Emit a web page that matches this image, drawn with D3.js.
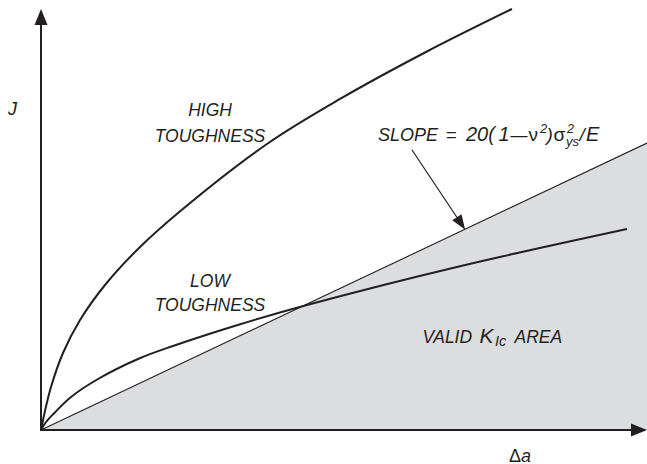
<!DOCTYPE html>
<html>
<head>
<meta charset="utf-8">
<script src="https://cdn.jsdelivr.net/npm/d3@7"></script>
<style>
  html, body { margin: 0; padding: 0; background: #fff; }
  svg { display: block; }
  text { font-family: 'Liberation Sans', Arial, Helvetica, sans-serif; fill: #231f20; white-space: pre; }
</style>
</head>
<body>
<svg id="chart" width="647" height="464"></svg>
<script>
// ---- data (abstract units: Δa on x, J on y) ----
const highDeltaA = [0, 0.066, 0.165, 0.363, 0.644, 1.056, 1.601, 2.261, 3.729, 4.934, 6.353, 7.772];
const highJ      = [0, 0.316, 0.715, 1.280, 1.829, 2.411, 3.010, 3.608, 4.756, 5.504, 6.285, 7.000];
const lowDeltaA  = [0, 0.083, 0.221, 0.495, 0.941, 1.601, 2.178, 3.300, 4.389, 6.931, 9.670];
const lowJ       = [0, 0.133, 0.283, 0.549, 0.848, 1.181, 1.397, 1.763, 2.078, 2.727, 3.342];
const slopeDeltaA = [0, 10];
const slopeJ      = [0, 4.77];
const axisLabels = ["J", "\u0394a"];
const curveLabels = [["HIGH", "TOUGHNESS"], ["LOW", "TOUGHNESS"]];

const svg = d3.select("#chart");
const ink = "#231f20";

const x = d3.scaleLinear().domain([0, 10]).range([41, 647]);
const y = d3.scaleLinear().domain([0, 7]).range([430, 9]);

const line = d3.line().x(d => x(d[0])).y(d => y(d[1])).curve(d3.curveCatmullRom.alpha(0.5));
const straight = d3.line().x(d => x(d[0])).y(d => y(d[1]));

// shaded valid area under slope line
const area = [[slopeDeltaA[0], slopeJ[0]], [slopeDeltaA[1], slopeJ[1]], [slopeDeltaA[1], 0]];
svg.append("path").attr("d", straight(area) + "Z").attr("fill", "#dcdddf").attr("stroke", "none");

// slope line
svg.append("path")
  .attr("d", straight(slopeDeltaA.map((d, i) => [d, slopeJ[i]])))
  .attr("fill", "none").attr("stroke", ink).attr("stroke-width", 1.1);

// curves
svg.append("path")
  .attr("d", line(highDeltaA.map((d, i) => [d, highJ[i]])))
  .attr("fill", "none").attr("stroke", ink).attr("stroke-width", 2);
svg.append("path")
  .attr("d", line(lowDeltaA.map((d, i) => [d, lowJ[i]])))
  .attr("fill", "none").attr("stroke", ink).attr("stroke-width", 2);

// axes with arrowheads
const x0 = x(0), y0 = y(0);
svg.append("line").attr("x1", x0).attr("y1", y0 + 1).attr("x2", x0).attr("y2", y(7) + 10)
  .attr("stroke", ink).attr("stroke-width", 2);
svg.append("path").attr("d", `M${x0},${y(7)} L${x0 - 6.5},${y(7) + 16} L${x0 + 6.5},${y(7) + 16} Z`).attr("fill", ink);
svg.append("line").attr("x1", x0 - 1).attr("y1", y0).attr("x2", x(10) - 10).attr("y2", y0)
  .attr("stroke", ink).attr("stroke-width", 2);
svg.append("path").attr("d", `M${x(10)},${y0} L${x(10) - 16},${y0 - 6.5} L${x(10) - 16},${y0 + 6.5} Z`).attr("fill", ink);

// axis labels
svg.append("text").attr("x", 8).attr("y", 115).style("font-size", "18px").style("font-style", "italic").text(axisLabels[0]);
const dl = svg.append("text").attr("x", 509).attr("y", 461.5).style("font-size", "18px");
dl.append("tspan").text(axisLabels[1].charAt(0));
dl.append("tspan").style("font-style", "italic").text(axisLabels[1].slice(1));

// curve labels
function twoLine(cx, y1, y2, lines) {
  svg.append("text").attr("x", cx).attr("y", y1).attr("text-anchor", "middle")
    .style("font-size", "17.5px").style("font-style", "italic").text(lines[0]);
  svg.append("text").attr("x", cx).attr("y", y2).attr("text-anchor", "middle")
    .style("font-size", "17.5px").style("font-style", "italic").text(lines[1]);
}
twoLine(210, 116, 141.5, curveLabels[0]);
twoLine(210, 286.5, 311, curveLabels[1]);

// rich text helper: each part placed at its own x
function rich(yb, parts) {
  parts.forEach(p => {
    svg.append("text")
      .attr("x", p.x).attr("y", yb + (p.dy || 0))
      .style("font-size", p.size + "px")
      .style("font-style", p.italic ? "italic" : "normal")
      .text(p.t);
  });
}

// slope formula
rich(140.5, [
  { t: "SLOPE", x: 378, size: 18, italic: true },
  { t: "=", x: 446, size: 18.5 },
  { t: "20(", x: 466, size: 20, italic: true },
  { t: "1", x: 498.5, size: 20, italic: true },
  { t: "\u2014", x: 510.5, size: 17 },
  { t: "\u03bd", x: 528.5, size: 19 },
  { t: "2", x: 540, size: 13, italic: true, dy: -7.5 },
  { t: ")", x: 546.5, size: 19, italic: true },
  { t: "\u03c3", x: 553.5, size: 19 },
  { t: "2", x: 567, size: 12.5, italic: true, dy: -8 },
  { t: "ys", x: 566, size: 13, italic: true, dy: 5.5 },
  { t: "/", x: 579.5, size: 19, italic: true },
  { t: "E", x: 586, size: 20, italic: true }
]);

// valid area label
rich(342.5, [
  { t: "VALID", x: 422.5, size: 17.5, italic: true },
  { t: "K", x: 479.5, size: 21, italic: true },
  { t: "Ic", x: 495, size: 14.5, italic: true, dy: 3 },
  { t: "AREA", x: 514.5, size: 17.5, italic: true }
]);

// annotation arrow pointing to slope line
const aStart = [6.12, 4.66], aTip = [7.0, 3.33];
const sx = x(aStart[0]), sy = y(aStart[1]), tx = x(aTip[0]), ty = y(aTip[1]);
const ang = Math.atan2(ty - sy, tx - sx);
const hl = 15, hw = 5.5;
const bx = tx - hl * Math.cos(ang), by = ty - hl * Math.sin(ang);
svg.append("line").attr("x1", sx).attr("y1", sy).attr("x2", bx).attr("y2", by)
  .attr("stroke", ink).attr("stroke-width", 1.2);
svg.append("path").attr("d",
  `M${tx},${ty} L${bx + hw * Math.sin(ang)},${by - hw * Math.cos(ang)} L${bx - hw * Math.sin(ang)},${by + hw * Math.cos(ang)} Z`)
  .attr("fill", ink);
</script>
</body>
</html>
